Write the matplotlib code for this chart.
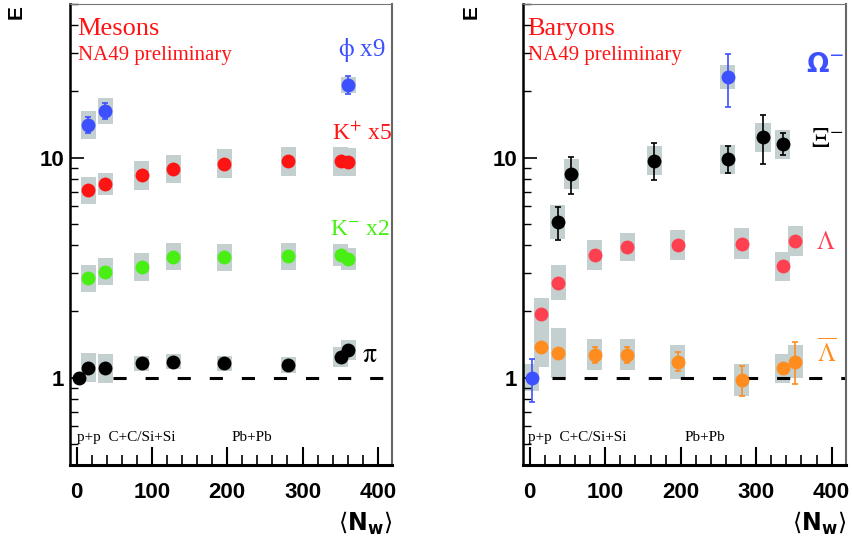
import numpy as np
import matplotlib
matplotlib.use("Agg")
import matplotlib.pyplot as plt

plt.rcParams['mathtext.fontset'] = 'stix'
plt.rcParams['font.family'] = ['Liberation Serif', 'DejaVu Serif']

# ---- Mesons (left panel) ----
nw_phi = [15, 38, 361]
phi = [14.1, 16.3, 21.4]
phi_stat = [0.09, 0.09, 0.10]
phi_sys = [0.16, 0.14, 0.09]

nw_kp = [15, 38, 86, 128, 196, 281, 351, 361]
kp = [7.10, 7.61, 8.30, 8.85, 9.39, 9.62, 9.62, 9.55]
kp_sys = [0.155, 0.12, 0.16, 0.16, 0.16, 0.16, 0.16, 0.16]

nw_km = [15, 38, 86, 128, 196, 281, 351, 361]
km = [2.83, 3.03, 3.19, 3.55, 3.52, 3.56, 3.61, 3.46]
km_sys = [0.15, 0.15, 0.16, 0.155, 0.155, 0.155, 0.12, 0.12]

nw_pi = [2.6, 15, 38, 86, 128, 196, 281, 351, 361]
pi = [1.0, 1.11, 1.10, 1.16, 1.18, 1.16, 1.14, 1.24, 1.33]
pi_sys = [0.0, 0.16, 0.16, 0.08, 0.08, 0.08, 0.09, 0.11, 0.11]

# ---- Baryons (right panel) ----
nw_om = [2.6, 262]
om = [1.0, 23.3]
om_lo = [0.77, 17.0]
om_hi = [1.22, 29.7]
om_sys = [0.155, 0.13]

nw_xi = [37, 55, 165, 262, 309, 335]
xi = [5.09, 8.45, 9.69, 9.82, 12.4, 11.5]
xi_lo = [4.24, 6.85, 7.88, 8.54, 9.39, 10.3]
xi_hi = [5.95, 10.1, 11.6, 11.26, 15.6, 12.9]
xi_sys = [0.195, 0.17, 0.16, 0.165, 0.165, 0.165]

nw_la = [15, 38, 86, 129, 196, 281, 335, 352]
la = [1.95, 2.70, 3.61, 3.91, 4.01, 4.06, 3.20, 4.17]
la_sys = [0.18, 0.20, 0.165, 0.16, 0.17, 0.175, 0.16, 0.17]

nw_alb = [15, 38, 86, 129, 196, 281, 335, 352]
alb = [1.37, 1.29, 1.27, 1.27, 1.18, 0.976, 1.10, 1.18]
alb_lo = [1.37, 1.29, 1.16, 1.16, 1.07, 0.825, 1.10, 0.933]
alb_hi = [1.37, 1.29, 1.38, 1.37, 1.30, 1.13, 1.10, 1.444]
alb_sys = [0.23, 0.30, 0.18, 0.18, 0.195, 0.18, 0.16, 0.19]

box_col = '#c4d0d0'
c_blue = '#3c50ff'
c_red = '#ff1414'
c_green = '#48ee14'
c_lam = '#ff4050'
c_alam = '#ff8c1e'


def draw_series(ax, x, y, sys, color, lo=None, hi=None):
    x = np.array(x, float)
    y = np.array(y, float)
    f = 1 + np.array(sys, float)
    keep = f > 1.0
    ax.bar(x[keep], (y * f - y / f)[keep], bottom=(y / f)[keep], width=20,
           color=box_col, zorder=1, linewidth=0)
    if lo is not None:
        yerr = [y - np.array(lo), np.array(hi) - y]
        ax.errorbar(x, y, yerr=yerr, fmt='none', ecolor=color, elinewidth=1.2,
                    capsize=2.5, capthick=1.2, zorder=3)
    ax.plot(x, y, 'o', color=color, markersize=10, markeredgewidth=0, zorder=4)


def style_axes(ax):
    ax.set_yscale('log')
    ax.set_xlim(-9, 419)
    ax.set_ylim(0.4, 50)
    ax.set_xticks([0, 100, 200, 300, 400])
    ax.set_xticks(np.arange(0, 420, 20), minor=True)
    ax.set_yticks([1, 10])
    ax.set_yticklabels(['1', '10'])
    ax.tick_params(axis='both', which='both', direction='in', top=False, right=False)
    ax.tick_params(axis='y', which='major', length=10, width=1.2, pad=4)
    ax.tick_params(axis='y', which='minor', length=6, width=1.0, labelleft=False)
    ax.tick_params(axis='x', which='major', length=13, width=1.5, pad=12)
    ax.tick_params(axis='x', which='minor', length=7, width=1.2)
    for lab in ax.get_xticklabels() + ax.get_yticklabels():
        lab.set_fontfamily('Liberation Sans')
        lab.set_fontweight('bold')
        lab.set_fontsize(16)
    ax.spines['left'].set_linewidth(1.8)
    ax.spines['bottom'].set_linewidth(2.2)
    ax.spines['top'].set_linewidth(0.8)
    ax.spines['top'].set_color('#777777')
    ax.spines['right'].set_linewidth(1.5)
    ax.spines['right'].set_color('#666666')
    ax.text(1.0, -0.126, r'$\langle\mathbf{N}_{\mathbf{w}}\rangle$', transform=ax.transAxes,
            ha='right', va='center', fontsize=17, math_fontfamily='dejavusans')


fig = plt.figure(figsize=(8.53, 5.45), dpi=100)
ax1 = fig.add_axes([0.0821, 0.1468, 0.3775, 0.8459])
ax2 = fig.add_axes([0.6131, 0.1468, 0.3787, 0.8459])

# Mesons
draw_series(ax1, nw_phi, phi, phi_sys, c_blue,
            lo=np.array(phi) / (1 + np.array(phi_stat)), hi=np.array(phi) * (1 + np.array(phi_stat)))
draw_series(ax1, nw_kp, kp, kp_sys, c_red)
draw_series(ax1, nw_km, km, km_sys, c_green)
draw_series(ax1, nw_pi, pi, pi_sys, 'black')
ax1.hlines(1, 48, 419, colors='black', linewidth=2.2, linestyles=(0, (4.3, 6.2)), zorder=2)

ax1.text(1, 38.5, 'Mesons', color=c_red, fontsize=19, va='center')
ax1.text(1, 29.3, 'NA49 preliminary', color=c_red, fontsize=15, va='center')
ax1.text(410, 30.8, r'$\mathrm{\phi}$ x9', color=c_blue, fontsize=18, ha='right', va='center')
ax1.text(419, 12.9, r'K$^{+}$ x5', color=c_red, fontsize=17, ha='right', va='center')
ax1.text(417, 4.71, r'K$^{-}$ x2', color=c_green, fontsize=17, ha='right', va='center')
ax1.text(400, 1.26, r'$\mathrm{\pi}$', color='black', fontsize=20, ha='right', va='center')
ax1.text(0, 0.533, 'p+p  C+C/Si+Si', fontsize=11, va='center')
ax1.text(206, 0.533, 'Pb+Pb', fontsize=11, va='center')

# Baryons
draw_series(ax2, nw_om, om, om_sys, c_blue, lo=om_lo, hi=om_hi)
draw_series(ax2, nw_xi, xi, xi_sys, 'black', lo=xi_lo, hi=xi_hi)
draw_series(ax2, nw_la, la, la_sys, c_lam)
draw_series(ax2, nw_alb, alb, alb_sys, c_alam, lo=alb_lo, hi=alb_hi)
ax2.hlines(1, 30, 419, colors='black', linewidth=2.2, linestyles=(0, (4.3, 6.2)), zorder=2)

ax2.text(-3, 38.5, 'Baryons', color=c_red, fontsize=19, va='center')
ax2.text(-3, 29.3, 'NA49 preliminary', color=c_red, fontsize=15, va='center')
ax2.text(392, 26.3, r'$\mathbf{\Omega}^{-}$', color=c_blue, fontsize=19, ha='center', va='center',
         math_fontfamily='dejavusans')
ax2.text(394, 12.0, r'$\Xi^{-}$', color='black', fontsize=20, ha='center', va='center')
ax2.text(392, 4.11, r'$\Lambda$', color=c_lam, fontsize=18, ha='center', va='center')
ax2.text(393, 1.30, r'$\overline{\Lambda}$', color=c_alam, fontsize=18, ha='center', va='center')
ax2.text(-3, 0.533, 'p+p  C+C/Si+Si', fontsize=11, va='center')
ax2.text(205, 0.533, 'Pb+Pb', fontsize=11, va='center')

for ax in (ax1, ax2):
    style_axes(ax)

fig.text(16 / 853, 1 - 12 / 545, 'E', rotation=90, fontsize=15, fontweight='bold',
         family='Liberation Sans', ha='center', va='center')
fig.text(471 / 853, 1 - 12 / 545, 'E', rotation=90, fontsize=15, fontweight='bold',
         family='Liberation Sans', ha='center', va='center')

fig.savefig('out.png', dpi=100)
